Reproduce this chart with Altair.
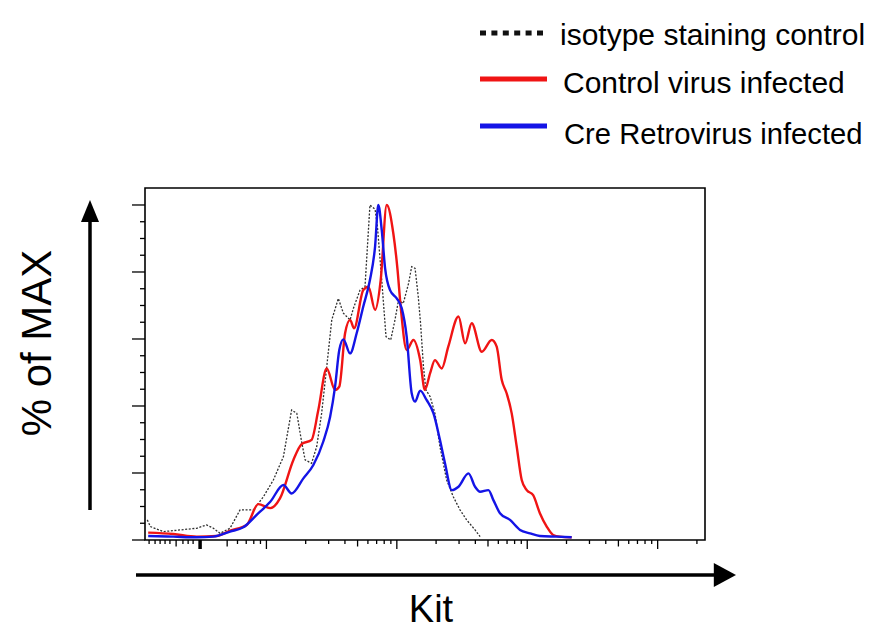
import altair as alt
import pandas as pd

FONT = "Liberation Sans"

# ---- data (Kit intensity, % of MAX) ----
iso_kit = [1.22, 1.29, 1.62, 2.17, 2.92, 3.48, 3.92, 4.41, 5.26, 6.28,
           7.95, 9.48, 11.3, 13.5, 15.6, 17.1, 18.6, 19.8, 22.2, 24.3,
           26.5, 29.0, 31.7, 35.6, 38.9, 43.8, 46.5, 52.2, 57.0, 62.2,
           68.1, 71.0, 76.6, 82.6, 89.7, 96.8, 103, 112, 123, 130,
           138, 146, 152, 160, 167, 180, 196, 214, 241, 271,
           305, 343, 398, 435]
iso_pct = [6.0, 4.0, 2.5, 3.0, 3.5, 4.5, 3.5, 2.0, 3.5, 9.0,
           9.0, 12.9, 17.9, 24.9, 38.8, 37.8, 29.4, 23.9, 22.9, 27.9,
           37.8, 51.7, 65.7, 72.1, 67.7, 65.7, 69.2, 74.6, 75.6, 100,
           98.7, 93.5, 77.6, 60.7, 59.7, 65.7, 71.6, 70.6, 76.6, 81.6,
           81.1, 72.6, 64.7, 51.7, 44.8, 42.8, 37.8, 27.9, 17.9, 12.9,
           9.0, 6.0, 3.0, 1.0]

ctrl_kit = [1.24, 1.93, 2.92, 4.16, 5.26, 7.06, 8.67, 10.7, 12.7, 16.1,
            18.6, 22.2, 25.0, 29.0, 33.6, 36.2, 40.1, 43.8, 47.0, 55.3,
            60.5, 68.1, 75.2, 83.6, 94.0, 101, 107, 119, 134, 151,
            164, 180, 196, 221, 248, 297, 334, 375, 448, 534,
            583, 637, 695, 760, 830, 907, 991, 1110, 1250, 1410,
            1580, 1780, 2190]
ctrl_pct = [2.2, 1.8, 1.0, 1.2, 2.8, 4.5, 10.7, 9.5, 12.4, 23.9,
            28.6, 29.9, 38.8, 51.2, 44.8, 45.8, 61.7, 65.7, 63.2, 74.6,
            75.6, 68.7, 77.6, 100, 91.5, 81.1, 69.7, 56.7, 59.7, 53.7,
            44.8, 49.8, 53.7, 51.2, 57.7, 66.7, 58.7, 64.7, 56.2, 59.7,
            57.7, 47.8, 43.8, 37.8, 27.9, 17.9, 14.9, 13.4, 8.0, 4.0,
            1.5, 1.0, 0.8]

cre_kit = [1.24, 1.93, 2.92, 3.92, 5.26, 6.65, 8.42, 10.7, 13.5, 15.6,
           19.2, 22.9, 27.3, 30.8, 33.6, 36.2, 38.9, 43.8, 49.2, 55.3,
           62.2, 68.1, 72.1, 76.6, 81.3, 88.7, 99.8, 109, 119, 130,
           138, 151, 169, 191, 214, 234, 264, 297, 354, 398,
           435, 504, 550, 618, 738, 881, 1050, 1250, 1680, 2190]
cre_pct = [1.2, 1.0, 0.8, 1.0, 2.5, 3.8, 7.5, 11.4, 16.4, 13.9,
           18.4, 22.4, 29.4, 36.8, 45.8, 56.7, 59.9, 55.7, 61.7, 69.7,
           77.6, 87.6, 100, 92.5, 81.1, 74.6, 72.1, 69.2, 60.7, 43.8,
           41.3, 44.6, 41.8, 37.8, 29.9, 22.9, 14.9, 15.9, 19.9, 15.9,
           14.4, 14.9, 11.9, 8.0, 6.0, 3.0, 2.0, 1.2, 1.0, 0.8]

legend_labels = ["isotype staining control", "Control virus infected", "Cre Retrovirus infected"]

# tick positions (axis has marks but no labels)
x_major_ticks = [10, 100, 1000, 10000]
x_mid_ticks = [2.03, 5, 50, 500, 5000]
x_minor_ticks = [1.26, 1.40, 1.53, 1.67, 1.82, 2.29, 2.51, 2.74,
                 6, 7, 8, 9, 20, 30, 40, 60, 70, 80, 90,
                 200, 300, 400, 600, 700, 800, 900,
                 2000, 3000, 4000, 6000, 7000, 8000, 9000, 20000]
x_bold_ticks = [3.1]
y_major_ticks = [0, 20, 40, 60, 80, 100]
y_minor_ticks = [5, 10, 15, 25, 30, 35, 45, 50, 55, 65, 70, 75, 85, 90, 95]

W, H = 560, 352
x_scale = alt.Scale(type="log", domain=[1.172, 23067], nice=False)
y_scale = alt.Scale(domain=[0, 105.07], nice=False, zero=False)
X = alt.X("kit:Q", scale=x_scale, axis=None)
Y = alt.Y("pct:Q", scale=y_scale, axis=None)


def df(kit, pct):
    return pd.DataFrame({"kit": kit, "pct": pct})


iso = alt.Chart(df(iso_kit, iso_pct)).mark_line(
    color="#303030", strokeWidth=1.3, strokeDash=[2, 1.6]).encode(x=X, y=Y)
ctrl = alt.Chart(df(ctrl_kit, ctrl_pct)).mark_line(
    color="#f01414", strokeWidth=2.4, interpolate="monotone").encode(x=X, y=Y)
cre = alt.Chart(df(cre_kit, cre_pct)).mark_line(
    color="#1414e6", strokeWidth=2.4, interpolate="monotone").encode(x=X, y=Y)


def xticks(vals, length, width=1.3):
    return alt.Chart(pd.DataFrame({"kit": vals})).mark_rule(
        color="black", strokeWidth=width).encode(
        x=X, y=alt.value(H), y2=alt.value(H + length))


def yticks(vals, length):
    return alt.Chart(pd.DataFrame({"pct": vals})).mark_rule(
        color="black", strokeWidth=1.3).encode(
        y=Y, x=alt.value(-length), x2=alt.value(0))


one = pd.DataFrame({"a": [0]})

# axis arrows
up_line = alt.Chart(one).mark_rule(color="black", strokeWidth=3.5).encode(
    x=alt.value(-55), y=alt.value(322), y2=alt.value(30))
up_head = alt.Chart(one).mark_point(
    shape="M0,-1L0.82,1L-0.82,1Z", filled=True, size=484, color="black", opacity=1).encode(
    x=alt.value(-55), y=alt.value(23))
right_line = alt.Chart(one).mark_rule(color="black", strokeWidth=3.5).encode(
    x=alt.value(-9), x2=alt.value(572), y=alt.value(387))
right_head = alt.Chart(one).mark_point(
    shape="M1,0L-0.85,-1L-0.85,1Z", filled=True, size=576, color="black", opacity=1).encode(
    x=alt.value(579), y=alt.value(387))

ylab = alt.Chart(pd.DataFrame({"t": ["% of MAX"]})).mark_text(
    angle=270, fontSize=42, font=FONT, align="center", baseline="alphabetic", color="black").encode(
    text="t:N", x=alt.value(-94), y=alt.value(155))
xlab = alt.Chart(pd.DataFrame({"t": ["Kit"]})).mark_text(
    fontSize=38, font=FONT, align="center", baseline="alphabetic", color="black").encode(
    text="t:N", x=alt.value(286), y=alt.value(434))

# legend
leg_styles = [dict(color="#111111", strokeDash=[6, 5.4]),
              dict(color="#f01414"),
              dict(color="#1414e6")]
sym_y = [-155, -109, -62]
txt_x = [415, 418, 419]
txt_y = [-143.5, -95.5, -44]
txt_size = [30, 30, 29.2]
legend_layers = []
for i, lab in enumerate(legend_labels):
    d = pd.DataFrame({"label": [lab]})
    legend_layers.append(alt.Chart(d).mark_rule(strokeWidth=5, **leg_styles[i]).encode(
        x=alt.value(335), x2=alt.value(402), y=alt.value(sym_y[i])))
    legend_layers.append(alt.Chart(d).mark_text(
        fontSize=txt_size[i], font=FONT, align="left", baseline="alphabetic", color="black").encode(
        text="label:N", x=alt.value(txt_x[i]), y=alt.value(txt_y[i])))

chart = alt.layer(
    xticks(x_minor_ticks, 4), xticks(x_mid_ticks, 6.5), xticks(x_major_ticks, 9),
    xticks(x_bold_ticks, 9, 3.5),
    yticks(y_minor_ticks, 5), yticks(y_major_ticks, 13),
    iso, ctrl, cre,
    up_line, up_head, right_line, right_head, ylab, xlab,
    *legend_layers,
).properties(
    width=W, height=H,
    autosize=alt.AutoSizeParams(type="none"),
    padding={"left": 137, "top": 180, "right": 163, "bottom": 94},
).configure_view(stroke="black", strokeWidth=1.6)

chart.save("out.html", embed_options={"renderer": "svg", "actions": False})
